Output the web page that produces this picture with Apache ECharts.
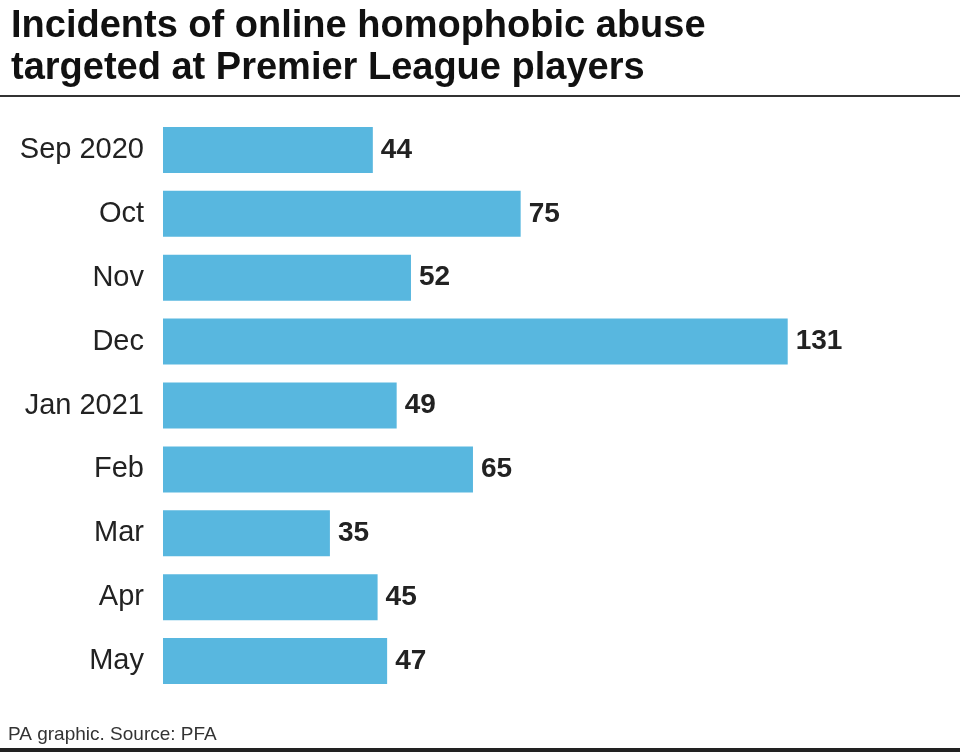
<!DOCTYPE html>
<html><head><meta charset="utf-8">
<script src="https://cdn.jsdelivr.net/npm/echarts@6/dist/echarts.min.js"></script>
<style>html,body{margin:0;padding:0;background:#fff}#c{width:960px;height:754px}</style>
</head><body><div id="c"></div>
<script>
const categories = ["Sep 2020","Oct","Nov","Dec","Jan 2021","Feb","Mar","Apr","May"];
const incidents = [44,75,52,131,49,65,35,45,47];
const titleText = "Incidents of online homophobic abuse\ntargeted at Premier League players";
const sourceText = "PA graphic. Source: PFA";
const FONT = '"Liberation Sans", Arial, sans-serif';

const chart = echarts.init(document.getElementById('c'), null, {renderer:'canvas'});
chart.setOption({
  animation:false,
  backgroundColor:'#fff',
  title:{
    text:titleText, left:6, top:1,
    textStyle:{fontFamily:FONT, fontWeight:'bold', fontSize:38, lineHeight:42, color:'#111'}
  },
  graphic:[
    {type:'rect', shape:{x:0,y:95,width:960,height:2}, style:{fill:'#333'}},
    {type:'rect', shape:{x:0,y:748,width:960,height:4}, style:{fill:'#222'}},
    {type:'text', left:8, top:725, style:{text:sourceText, fontFamily:FONT, fontSize:19, fill:'#333'}}
  ],
  grid:{left:163, right:34, top:118, bottom:61, containLabel:false},
  xAxis:{type:'value', min:0, max:160, show:false},
  yAxis:{type:'category', data:categories, inverse:true,
    axisLine:{show:false}, axisTick:{show:false},
    axisLabel:{margin:19, fontFamily:FONT, fontSize:29, color:'#222'}},
  series:[{
    type:'bar', data:incidents, barWidth:'72%',
    itemStyle:{color:'#58b7df'},
    label:{show:true, position:'right', distance:8, fontFamily:FONT, fontWeight:'bold', fontSize:28, color:'#222'}
  }]
});
</script></body></html>
